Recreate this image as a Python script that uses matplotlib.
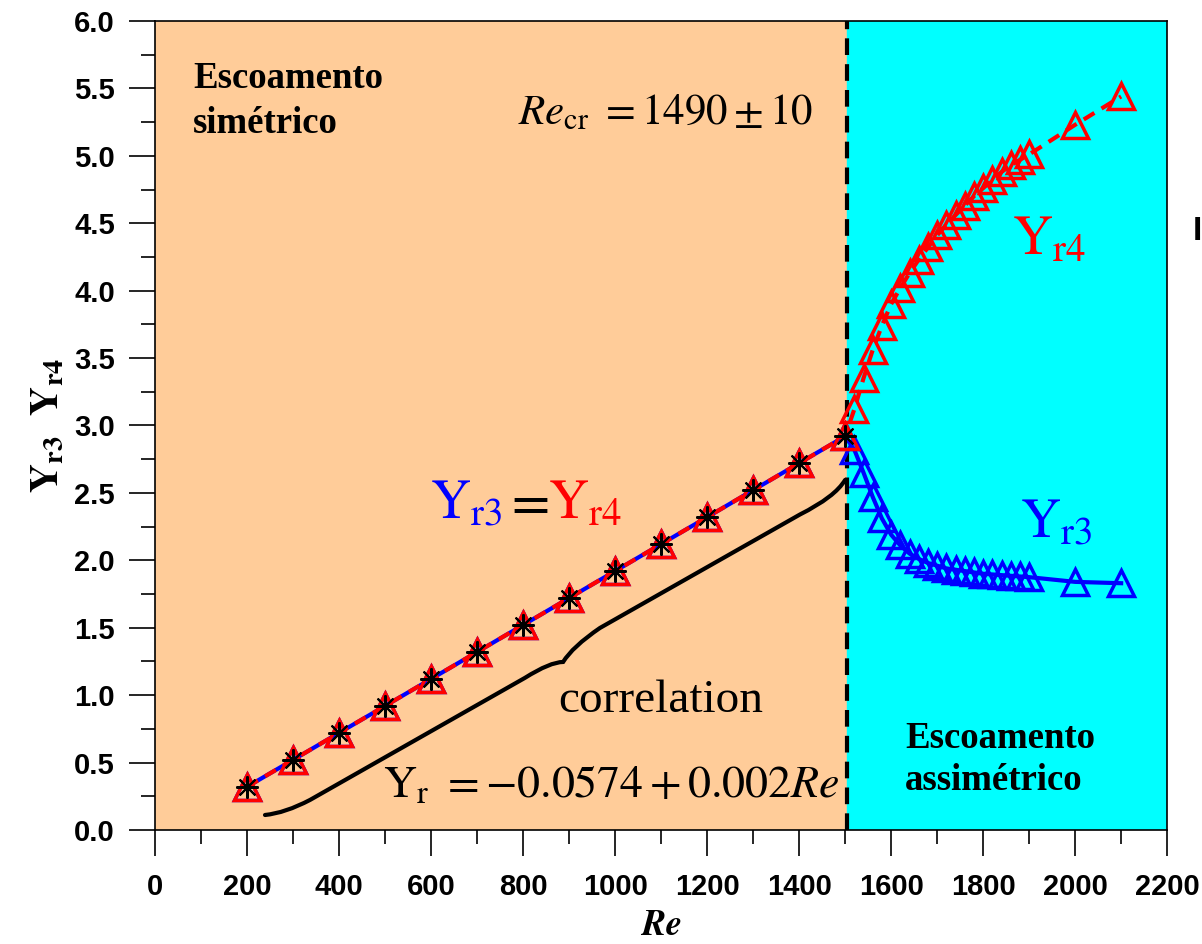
import matplotlib
matplotlib.use("Agg")
import matplotlib.pyplot as plt
from matplotlib.path import Path
from matplotlib.patches import PathPatch
from matplotlib.ticker import MultipleLocator, FormatStrFormatter

plt.rcParams['mathtext.fontset'] = 'stix'

# ---- data ----
re_sym = [200, 300, 400, 500, 600, 700, 800, 900, 1000, 1100, 1200, 1300, 1400, 1500]
y_sym = [0.32, 0.52, 0.72, 0.92, 1.12, 1.32, 1.52, 1.72, 1.92, 2.12, 2.32, 2.52, 2.72, 2.92]

re_asym = [1520, 1540, 1560, 1580, 1600, 1620, 1640, 1660, 1680, 1700, 1720, 1740,
           1760, 1780, 1800, 1820, 1840, 1860, 1880, 1900, 2000, 2100]
yr4_asym = [3.12, 3.35, 3.56, 3.74, 3.90, 4.02, 4.13, 4.23, 4.32, 4.41, 4.49, 4.56,
            4.63, 4.70, 4.76, 4.82, 4.88, 4.93, 4.97, 5.01, 5.23, 5.44]
yr3_asym = [2.82, 2.65, 2.47, 2.31, 2.19, 2.11, 2.05, 2.01, 1.98, 1.96, 1.94, 1.93,
            1.92, 1.91, 1.90, 1.895, 1.89, 1.885, 1.88, 1.875, 1.84, 1.83]

re_cr_line = 1505
x_ticks = list(range(0, 2201, 200))
y_ticks = [0.0, 0.5, 1.0, 1.5, 2.0, 2.5, 3.0, 3.5, 4.0, 4.5, 5.0, 5.5, 6.0]

re_r3 = re_sym + re_asym
yr3 = y_sym + yr3_asym
re_r4 = re_sym + re_asym
yr4 = y_sym + yr4_asym

fig = plt.figure(figsize=(12.02, 9.44), dpi=100)
ax = fig.add_axes([0.129, 0.1208, 0.842, 0.857])
ax.set_xlim(0, 2200)
ax.set_ylim(0, 6.0)

ax.axvspan(0, re_cr_line, color='#FFCC99', zorder=0)
ax.axvspan(re_cr_line, 2200, color='#00FFFF', zorder=0)
ax.axvline(re_cr_line, color='black', lw=3, ls=(0, (4, 2.2)), zorder=2)

# series
ax.plot(re_r3, yr3, color='blue', lw=3, marker='^', ms=19, mfc='none', mec='blue', mew=2.5, zorder=3)
ax.plot(re_r4, yr4, color='red', lw=3, ls=(0, (3, 2)), marker='^', ms=19, mfc='none', mec='red', mew=2.5, zorder=4)
ax.plot(re_sym, y_sym, ls='none', marker=(8, 2, 0), ms=16, mec='black', mew=1.5, zorder=5)

# curly brace (annotation)
verts = [(239, 0.111), (283, 0.126), (337, 0.223),
         (804, 1.128),
         (859, 1.246), (887, 1.246),
         (907, 1.358), (967, 1.498),
         (1402, 2.34),
         (1478, 2.47), (1500, 2.596)]
codes = [Path.MOVETO, Path.CURVE3, Path.CURVE3,
         Path.LINETO,
         Path.CURVE3, Path.CURVE3,
         Path.CURVE3, Path.CURVE3,
         Path.LINETO,
         Path.CURVE3, Path.CURVE3]
ax.add_patch(PathPatch(Path(verts, codes), fill=False, lw=3, ec='black', zorder=3,
                       capstyle='round', joinstyle='miter'))

# ticks
ax.set_xticks(x_ticks)
ax.set_yticks(y_ticks)
ax.xaxis.set_minor_locator(MultipleLocator(100))
ax.yaxis.set_minor_locator(MultipleLocator(0.25))
ax.yaxis.set_major_formatter(FormatStrFormatter('%.1f'))
ax.tick_params(which='major', direction='out', length=19, width=1.2)
ax.tick_params(axis='y', which='major', pad=10)
ax.tick_params(axis='x', which='major', pad=12)
ax.tick_params(which='minor', direction='out', length=10, width=1.2)
for lab in ax.get_xticklabels() + ax.get_yticklabels():
    lab.set_fontfamily('Liberation Sans')
    lab.set_fontweight('bold')
    lab.set_fontsize(21)
for s in ax.spines.values():
    s.set_linewidth(1.2)

ax.set_xlabel(r'$\mathbfit{Re}$', fontsize=26, labelpad=5)
ax.set_ylabel(r'$\mathbf{Y_{r3}\ \ Y_{r4}}$', fontsize=29, labelpad=5)

serif = 'Liberation Serif'
ax.text(83, 5.50, 'Escoamento', fontfamily=serif, fontweight='bold', fontsize=26.5, va='baseline')
ax.text(83, 5.17, 'simétrico', fontfamily=serif, fontweight='bold', fontsize=26.5, va='baseline')
ax.text(1630, 0.61, 'Escoamento', fontfamily=serif, fontweight='bold', fontsize=26.5, va='baseline')
ax.text(1630, 0.30, 'assimétrico', fontfamily=serif, fontweight='bold', fontsize=26.5, va='baseline')

ax.text(789, 5.23, r'$Re_{\rm cr}\ = 1490\pm10$', fontsize=31, va='baseline')
ax.text(876, 0.875, 'correlation', fontfamily=serif, fontsize=34, va='baseline')
ax.text(496, 0.245, r'$\mathrm{Y}_{\mathrm{r}}\ = -0.0574+0.002Re$', fontsize=33, va='baseline')

ax.text(598, 2.31, r'$\mathrm{Y}_{\mathrm{r3}}$', color='blue', fontsize=40, va='baseline')
ax.text(757, 2.31, r'$=$', color='black', fontsize=40, va='baseline')
ax.text(854, 2.31, r'$\mathrm{Y}_{\mathrm{r4}}$', color='red', fontsize=40, va='baseline')

ax.text(1863, 4.27, r'$\mathrm{Y}_{\mathrm{r4}}$', color='red', fontsize=40, va='baseline')
ax.text(1880, 2.17, r'$\mathrm{Y}_{\mathrm{r3}}$', color='blue', fontsize=40, va='baseline')

fig.text(1193 / 1202, 1 - 240 / 944, 'I', fontfamily='Liberation Sans', fontweight='bold',
         fontsize=24, ha='left', va='baseline')

fig.savefig('out.png', dpi=100)
